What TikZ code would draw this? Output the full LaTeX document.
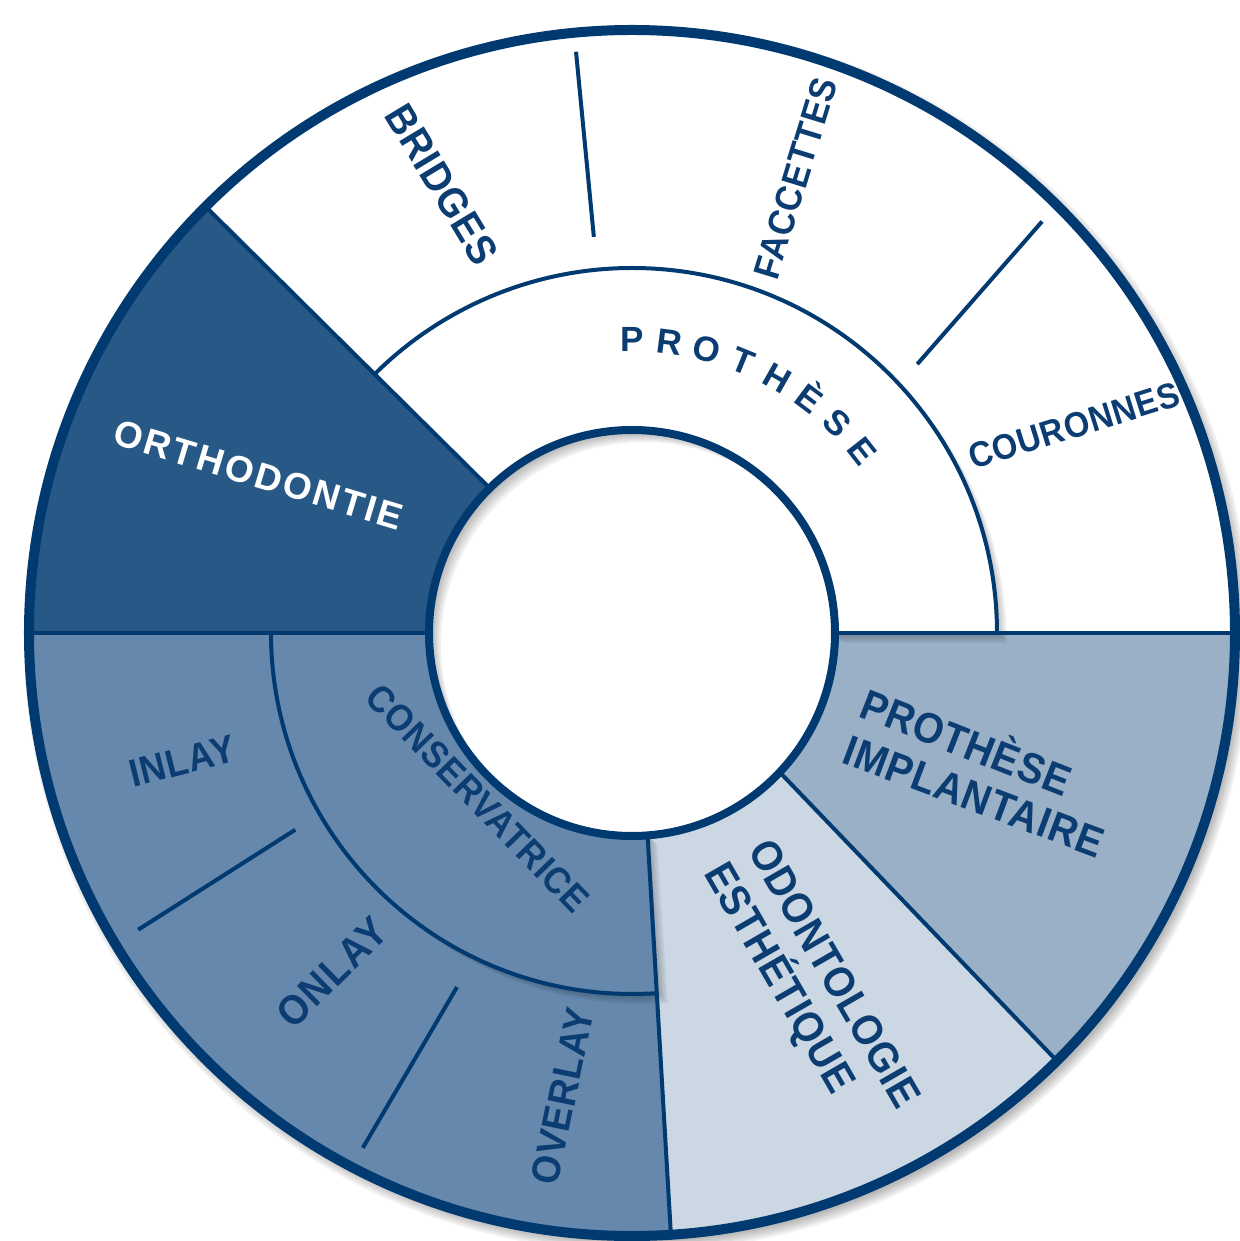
\documentclass[tikz,border=0pt]{standalone}
\usepackage{fontspec}
\setmainfont{Liberation Sans}
\newfontfamily\condfont[FakeStretch=0.92]{Liberation Sans}
\usetikzlibrary{calc}
\definecolor{navy}{HTML}{003A70}
\definecolor{ortho}{HTML}{285885}
\definecolor{cons}{HTML}{6588AC}
\definecolor{impl}{HTML}{9AB0C6}
\definecolor{odon}{HTML}{CBD8E3}
\definecolor{txt}{HTML}{0B3C72}
\newcommand\lblfont[1]{\fontsize{#1}{#1}\selectfont\bfseries}
% condensed, letter-spaced label: size, letter space, text
\newcommand\ctxt[3]{{\condfont\fontsize{#1}{#1}\selectfont\bfseries\addfontfeature{LetterSpace=#2}#3}}
\begin{document}
\begin{tikzpicture}[
  lab/.style={text=txt, inner sep=0pt, text depth=0pt},
  sep/.style={draw=navy, line width=4pt},
  shade/.style={fill=black, opacity=0.05},
]
\useasboundingbox (-632pt,-608pt) rectangle (607pt,633pt);

% outer drop shadow
\foreach \r in {613pt,611pt,609pt,607pt,605pt,603pt}
  \fill[black,opacity=0.05] (5pt,-6pt) circle[radius=\r];

% outer sectors
\fill[white] (0:203pt) -- (0:603pt) arc[start angle=0,end angle=135,radius=603pt] -- (134.5:203pt) -- cycle;
\fill[ortho] (134.5:203pt) -- (135:603pt) arc[start angle=135,end angle=180,radius=603pt] -- (180:203pt) -- cycle;
\fill[cons] (180:203pt) -- (180:603pt) arc[start angle=180,end angle=273.7,radius=603pt] -- (274.4:203pt) -- cycle;
\fill[odon] (274.4:203pt) -- (273.7:603pt) arc[start angle=273.7,end angle=314.8,radius=603pt] -- (316.7:203pt) -- cycle;
\fill[impl] (316.7:203pt) -- (314.8:603pt) arc[start angle=314.8,end angle=360,radius=603pt] -- (360:203pt) -- cycle;

% shadows of the raised middle ring
\foreach \d in {2pt,4pt,6pt,8pt,10pt}{
  \fill[shade] ([shift={(\d,-\d)}]0:203pt) -- ([shift={(\d,-\d)}]0:365pt) arc[start angle=0,end angle=134.7,radius=365pt] -- ([shift={(\d,-\d)}]134.5:203pt) -- cycle;
  \fill[shade] ([shift={(\d,-\d)}]180:203pt) -- ([shift={(\d,-\d)}]180:361pt) arc[start angle=180,end angle=274.1,radius=361pt] -- ([shift={(\d,-\d)}]274.4:203pt) -- cycle;
}

% middle ring sectors
\fill[white] (0:203pt) -- (0:365pt) arc[start angle=0,end angle=134.7,radius=365pt] -- (134.5:203pt) -- cycle;
\fill[cons] (180:203pt) -- (180:361pt) arc[start angle=180,end angle=274.1,radius=361pt] -- (274.4:203pt) -- cycle;

% central hole and its inner shadow
\fill[white] (0,0) circle[radius=203pt];
\begin{scope}
  \clip (0,0) circle[radius=203pt];
  \foreach \d in {2pt,4pt,6pt,8pt,10pt,12pt}
    \fill[black,opacity=0.06,even odd rule] (-260pt,-260pt) rectangle (260pt,260pt) (\d,-\d) circle[radius=203pt];
\end{scope}

% separators
\draw[sep] (0:203pt) -- (0:603pt);
\draw[sep] (180:203pt) -- (180:603pt);
\draw[sep] (134.5:203pt) -- (135:603pt);
\draw[sep] (-43.3:203pt) -- (-45.2:603pt);
\draw[sep] (-85.6:203pt) -- (-86.3:603pt);
\draw[sep] (0:365pt) arc[start angle=0,end angle=134.7,radius=365pt];
\draw[sep] (180:361pt) arc[start angle=180,end angle=274.1,radius=361pt];
\draw[sep] (95.5:398pt) -- (95.5:584pt);
\draw[sep] (43.3:392pt) -- (45.1:581pt);
\draw[sep] (-149.7:390pt) -- (-149:576pt);
\draw[sep] (-116.3:395pt) -- (-117.6:581pt);

% circles
\draw[navy, line width=8pt] (0,0) circle[radius=203pt];
\draw[navy, line width=10pt] (0,0) circle[radius=603pt];

% labels
\node[lab, text=white, text height=26.5pt, rotate=-16.8] (orthodontie) at (-373pt,158.5pt)
  {\lblfont{37}\addfontfeature{LetterSpace=7}ORTHODONTIE};
\node[lab, text height=29.7pt, rotate=-58.8] (bridges) at (-189.5pt,449pt) {\ctxt{41.5}{2}{BRIDGES}};
\node[lab, text height=26.4pt, rotate=72.9] (facettes) at (163pt,455pt) {\ctxt{36.9}{2}{FACCETTES}};
\node[lab, text height=25.5pt, rotate=17.4] (couronnes) at (442pt,208pt) {\ctxt{35.6}{2}{COURONNES}};
\node[lab, text height=27.9pt, rotate=14] (inlay) at (-450pt,-127.6pt) {\ctxt{39}{2}{INLAY}};
\node[lab, text height=29.7pt, rotate=44.3] (onlay) at (-300.5pt,-339pt) {\ctxt{41.5}{3.7}{ONLAY}};
\node[lab, text height=28.6pt, rotate=78.4] (overlay) at (-70pt,-463pt) {\ctxt{40}{2}{OVERLAY}};
\node[lab, text height=26.7pt, rotate=-45.9] (conservatrice) at (-154pt,-165pt) {\ctxt{37.3}{2}{CONSERVATRICE}};
\node[lab, text height=30.4pt, rotate=-60] (odontologie) at (203.5pt,-340.5pt) {\ctxt{42.5}{2}{ODONTOLOGIE}};
\node[lab, text height=30.4pt, rotate=-60] (esthetique) at (149pt,-344pt) {\ctxt{42.5}{2}{ESTHÉTIQUE}};
\node[lab, text height=30.6pt, rotate=-21.5] (protheseimpl) at (334pt,-109.5pt) {\ctxt{42.7}{2}{PROTHÈSE}};
\node[lab, text height=30.6pt, rotate=-20.5] (implantaire) at (342pt,-163pt) {\ctxt{42.7}{2}{IMPLANTAIRE}};
\foreach \l [count=\i from 0] in {P,R,O,T,H,È,S,E}
  \node[lab, text height=25pt, font={\lblfont{35}}, rotate={-7.4*\i}] (arc\i) at ({90-7.4*\i}:294pt) {\l};
\end{tikzpicture}
\end{document}
